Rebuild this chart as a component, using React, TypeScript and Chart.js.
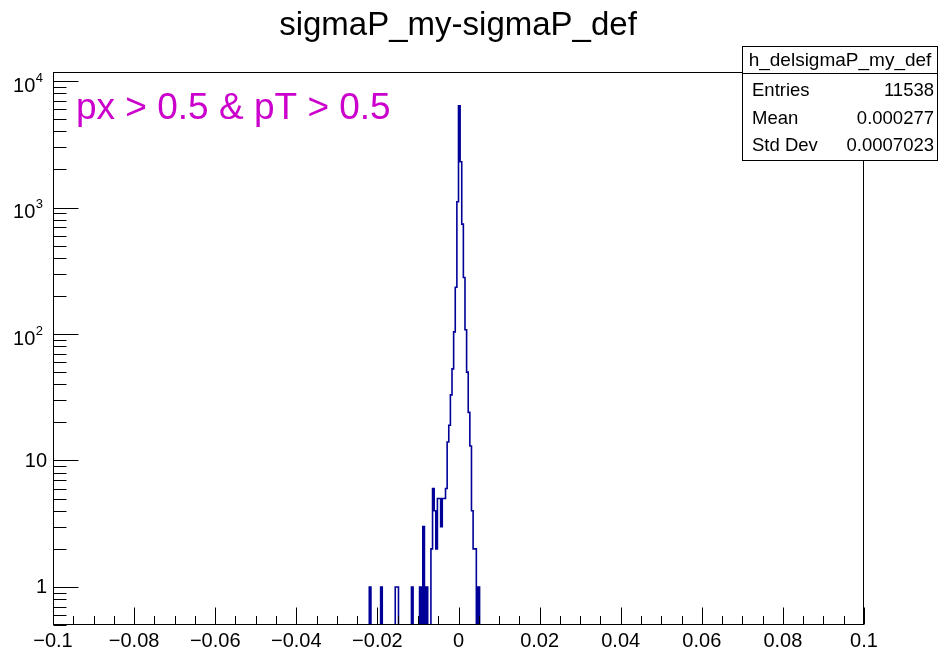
import React, { useEffect, useRef } from "react";
import { Chart, registerables } from "chart.js";

Chart.register(...registerables);

// ---------- text ----------
const TITLE = "sigmaP_my-sigmaP_def";
const CUT_LABEL = "px > 0.5 & pT > 0.5";
const HIST_NAME = "h_delsigmaP_my_def";
const STAT_LABELS = ["Entries", "Mean", "Std Dev"];
const STAT_VALUES = ["11538", "0.000277", "0.0007023"];

// ---------- histogram definition ----------
const X_MIN = -0.1;
const X_MAX = 0.1;
const N_BINS = 500;
const Y_MIN = 0.5;
const Y_MAX = 11800;

// non-empty bins: low edge of bin, and its content
const binLowEdges = [
  -0.022, -0.0192, -0.0156, -0.0152, -0.0116, -0.0096, -0.0088, -0.008,
  -0.0068, -0.0064, -0.006, -0.0056, -0.0052, -0.0048, -0.0044, -0.004,
  -0.0036, -0.0032, -0.0028, -0.0024, -0.002, -0.0016, -0.0012, -0.0008,
  -0.0004, 0.0, 0.0004, 0.0008, 0.0012, 0.0016, 0.002, 0.0024, 0.0028,
  0.0032, 0.0036, 0.004, 0.0048,
];
const binCounts = [
  1, 1, 1, 1, 1, 1, 3, 1,
  2, 6, 4, 2, 5, 5, 3, 5,
  5, 6, 14, 19, 33, 53, 104, 234,
  1110, 6380, 2300, 740, 280, 108, 50, 24, 13,
  4, 2, 2, 1,
];

// ---------- axis labels ----------
const xTickValues = [-0.1, -0.08, -0.06, -0.04, -0.02, 0, 0.02, 0.04, 0.06, 0.08, 0.1];
const xTickLabels = ["\u22120.1", "\u22120.08", "\u22120.06", "\u22120.04", "\u22120.02", "0", "0.02", "0.04", "0.06", "0.08", "0.1"];
const yTickValues = [1, 10, 100, 1000, 10000];
const yTickBases = ["1", "10", "10", "10", "10"];
const yTickExps = ["", "", "2", "3", "4"];

const FONT = '"Liberation Sans", Arial, Helvetica, sans-serif';
const LINE_COLOR = "#000099";
const CUT_COLOR = "#cc00cc";

const rootDecor = {
  id: "rootDecor",
  afterDraw(chart: any) {
    const { ctx, chartArea: a, scales } = chart;
    const xs = scales.x;
    const ys = scales.y;
    ctx.save();

    const L = Math.round(a.left) + 0.5;
    const R = Math.round(a.right) - 0.5;
    const T = Math.round(a.top) + 0.5;
    const B = Math.round(a.bottom) - 0.5;

    // frame
    ctx.strokeStyle = "#000";
    ctx.lineWidth = 1;
    ctx.strokeRect(L, T, R - L, B - T);

    // x ticks (inward, every 0.005; major every 0.02)
    ctx.beginPath();
    const nx = Math.round((X_MAX - X_MIN) / 0.005);
    for (let i = 0; i <= nx; i++) {
      const v = X_MIN + i * 0.005;
      const px = Math.round(xs.getPixelForValue(v)) + 0.5;
      const len = i % 4 === 0 ? 17 : 8.5;
      ctx.moveTo(px, B);
      ctx.lineTo(px, B - len);
    }
    // y ticks (log, inward)
    for (let d = 0.1; d <= 10000; d *= 10) {
      for (let m = 1; m <= 9; m++) {
        const v = m * d;
        if (v < Y_MIN * 0.999 || v > Y_MAX) continue;
        const py = Math.round(ys.getPixelForValue(v)) + 0.5;
        const len = m === 1 ? 25 : 13;
        ctx.moveTo(L, py);
        ctx.lineTo(L + len, py);
      }
    }
    ctx.stroke();

    // x labels
    ctx.fillStyle = "#000";
    ctx.font = `20px ${FONT}`;
    ctx.textAlign = "center";
    ctx.textBaseline = "alphabetic";
    xTickValues.forEach((v, i) => {
      ctx.fillText(xTickLabels[i], xs.getPixelForValue(v), 647);
    });

    // y labels
    yTickValues.forEach((v, i) => {
      const py = ys.getPixelForValue(v);
      const exp = yTickExps[i];
      ctx.textBaseline = "middle";
      ctx.textAlign = "right";
      if (!exp) {
        ctx.font = `20px ${FONT}`;
        ctx.fillText(yTickBases[i], 47, py + 1);
      } else {
        ctx.font = `13px ${FONT}`;
        const ew = ctx.measureText(exp).width;
        ctx.fillText(exp, 43, py - 3);
        ctx.font = `20px ${FONT}`;
        ctx.fillText(yTickBases[i], 43 - ew - 0.5, py + 5);
      }
    });

    // title
    ctx.font = `33px ${FONT}`;
    ctx.textAlign = "center";
    ctx.textBaseline = "alphabetic";
    ctx.fillText(TITLE, 458, 35);

    // cut label
    ctx.fillStyle = CUT_COLOR;
    ctx.font = `37px ${FONT}`;
    ctx.textAlign = "left";
    ctx.fillText(CUT_LABEL, 76, 119);

    // stats box
    const bx = 742.5, by = 46.5, bw = 195, bh = 114;
    ctx.fillStyle = "#fff";
    ctx.fillRect(bx, by, bw, bh);
    ctx.strokeStyle = "#000";
    ctx.lineWidth = 1;
    ctx.strokeRect(bx, by, bw, bh);
    ctx.beginPath();
    ctx.moveTo(bx, 73.5);
    ctx.lineTo(bx + bw, 73.5);
    ctx.stroke();
    ctx.fillStyle = "#000";
    ctx.font = `19px ${FONT}`;
    ctx.textBaseline = "middle";
    ctx.textAlign = "center";
    ctx.fillText(HIST_NAME, bx + bw / 2, 61);
    ctx.font = `18.5px ${FONT}`;
    STAT_LABELS.forEach((lab, i) => {
      const yy = 91 + i * 27.5;
      ctx.textAlign = "left";
      ctx.fillText(lab, 752, yy);
      ctx.textAlign = "right";
      ctx.fillText(STAT_VALUES[i], 934, yy);
    });

    ctx.restore();
  },
};

export default function App() {
  const ref = useRef<HTMLCanvasElement | null>(null);

  useEffect(() => {
    if (!ref.current) return;
    const binW = (X_MAX - X_MIN) / N_BINS;
    const counts: number[] = new Array(N_BINS).fill(0);
    binLowEdges.forEach((e, i) => {
      const k = Math.round((e - X_MIN) / binW);
      if (k >= 0 && k < N_BINS) counts[k] = binCounts[i];
    });
    // empty bins are drawn below the log-axis minimum (clipped away, as ROOT does)
    const floor = Y_MIN / 10;
    const pts = counts.map((c, k) => ({ x: X_MIN + k * binW, y: c > 0 ? c : floor }));
    pts.push({ x: X_MAX, y: floor });

    const chart = new Chart(ref.current, {
      type: "line",
      data: {
        datasets: [
          {
            data: pts,
            stepped: "before",
            borderColor: LINE_COLOR,
            borderWidth: 1.6,
            pointRadius: 0,
            fill: false,
            clip: 0,
          } as any,
        ],
      },
      options: {
        responsive: false,
        animation: false,
        events: [],
        layout: { padding: { left: 53, right: 76, top: 72, bottom: 30 } },
        plugins: { legend: { display: false }, tooltip: { enabled: false }, title: { display: false } },
        scales: {
          x: { type: "linear", min: X_MIN, max: X_MAX, display: false },
          y: { type: "logarithmic", min: Y_MIN, max: Y_MAX, display: false },
        },
      },
      plugins: [rootDecor],
    });
    return () => chart.destroy();
  }, []);

  return (
    <div style={{ position: "absolute", left: 0, top: 0, width: 940, height: 655, background: "#fff" }}>
      <canvas ref={ref} width={940} height={655} style={{ display: "block" }} />
    </div>
  );
}
